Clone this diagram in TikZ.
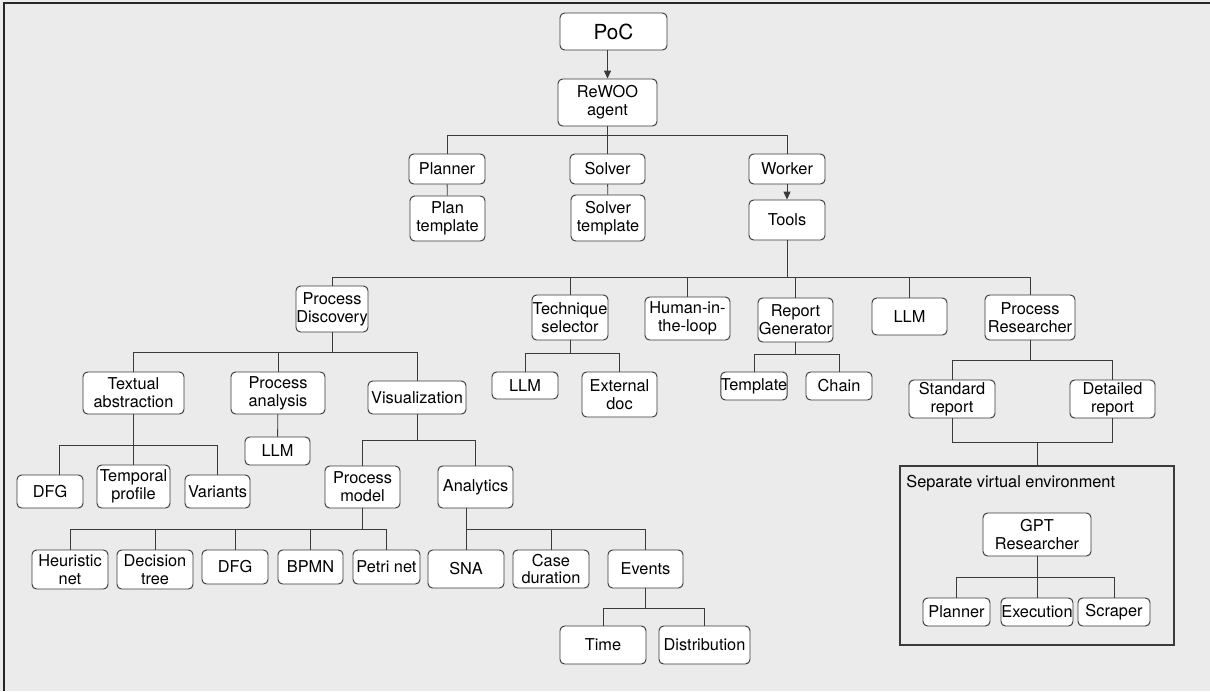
\documentclass[tikz,border=0pt]{standalone}
\usepackage{fontspec}
\setmainfont{TeX Gyre Heros}
\usetikzlibrary{arrows.meta}
\definecolor{bg}{HTML}{EBEBEB}
\definecolor{ln}{HTML}{3A3A3A}
% node placed by its box corners (in pixel units)
\newcommand\bx[7][]{\node[box,#1,minimum width={(#4-#2)*0.02cm},minimum height={(#5-#3)*0.02cm}] (#6) at ({(#2+#4)/2},{(#3+#5)/2}) {#7};}
\tikzset{
  box/.style={draw=ln,fill=white,rounded corners=2.6pt,inner sep=0pt,align=center,line width=0.55pt,
    font=\fontsize{9.3pt}{10.2pt}\selectfont},
  wire/.style={draw=ln,line width=0.5pt},
  arr/.style={wire,-{Triangle[length=4.5pt,width=4pt]}},
}
\begin{document}
\begin{tikzpicture}[x=0.02cm,y=-0.02cm]
\fill[bg] (0,0) rectangle (1210,691);
\useasboundingbox (0,0) rectangle (1210,691);
\draw[line width=1.1pt,black!85] (4,691) -- (4,3) -- (1210,3);

% top levels
\bx[font=\fontsize{11.8pt}{13pt}\selectfont]{560}{13}{667}{50}{poc}{PoC}
\bx{558}{79}{657}{126}{rewoo}{ReWOO\\agent}
\bx{409}{154}{485}{184}{planner}{Planner}
\bx{410}{196}{485}{241}{plantpl}{Plan\\template}
\bx{570}{154}{645}{184}{solver}{Solver}
\bx{571}{195}{645}{241}{solvtpl}{Solver\\template}
\bx{749}{154}{825}{184}{worker}{Worker}
\bx{749}{200}{825}{240}{tools}{Tools}

% tools
\bx{296}{286}{368}{332}{pdisc}{Process\\Discovery}
\bx{532}{295}{608}{340}{tsel}{Technique\\selector}
\bx{645}{297}{730}{340}{hitl}{Human-in-\\the-loop}
\bx{758}{298}{833}{342}{rgen}{Report\\Generator}
\bx{872}{298}{947}{335}{llmt}{LLM}
\bx{985}{295}{1075}{340}{pres}{Process\\Researcher}

% process discovery
\bx{83}{372}{184}{414}{textabs}{Textual\\abstraction}
\bx{231}{372}{325}{414}{pana}{Process\\analysis}
\bx{368}{381}{466}{414}{vis}{Visualization}
\bx{17}{475}{83}{508}{dfga}{DFG}
\bx{97}{465}{170}{508}{tprof}{Temporal\\profile}
\bx{185}{475}{250}{508}{variants}{Variants}
\bx{245}{437}{310}{465}{llmpa}{LLM}
\bx{325}{466}{400}{508}{pmodel}{Process\\model}
\bx{438}{466}{513}{508}{analytics}{Analytics}
\bx{32}{550}{108}{589}{heur}{Heuristic\\net}
\bx{117}{550}{193}{589}{dtree}{Decision\\tree}
\bx{202}{550}{268}{584}{dfgb}{DFG}
\bx{278}{550}{343}{584}{bpmn}{BPMN}
\bx{353}{550}{420}{584}{petri}{Petri net}
\bx{428}{550}{504}{588}{sna}{SNA}
\bx{513}{550}{589}{588}{cdur}{Case\\duration}
\bx{608}{550}{683}{588}{events}{Events}
\bx{560}{626}{646}{664}{time}{Time}
\bx{659}{626}{750}{664}{distr}{Distribution}

% technique selector / report generator
\bx{492}{372}{558}{399}{llmts}{LLM}
\bx{582}{372}{657}{417}{extdoc}{External\\doc}
\bx{721}{372}{787}{400}{tmpl}{Template}
\bx{806}{372}{872}{400}{chain}{Chain}

% process researcher
\bx{909}{380}{995}{418}{stdrep}{Standard\\report}
\bx{1070}{380}{1155}{418}{detrep}{Detailed\\report}
\node[draw=ln,line width=0.7pt,minimum width={274*0.02cm},minimum height={179*0.02cm},inner sep=0pt] (sve) at (1037,555.5) {};
\node[anchor=west,inner sep=0pt,font=\fontsize{9.3pt}{10.2pt}\selectfont] (svelbl) at (906,483) {Separate virtual environment};
\bx{983}{513}{1091}{556}{gptr}{GPT\\Researcher}
\bx{923}{598}{990}{626}{gplan}{Planner}
\bx{1001}{598}{1073}{626}{gexec}{Execution}
\bx{1078}{598}{1150}{626}{gscr}{Scraper}

% bus heights
\coordinate (b0) at (0,135);
\coordinate (b1) at (0,277);
\coordinate (b2) at (0,352);
\coordinate (b3) at (0,445);
\coordinate (b4) at (0,440);
\coordinate (b5) at (0,529);
\coordinate (b6) at (0,608);
\coordinate (b7) at (0,353);
\coordinate (b8) at (0,354);
\coordinate (b9) at (0,360);
\coordinate (b10) at (0,442);
\coordinate (b11) at (0,577);

% connectors
\draw[arr] (rewoo.north |- poc.south) -- (rewoo.north);
\draw[arr] (worker) -- (tools);
\draw[wire] (planner) -- (plantpl);
\draw[wire] (solver) -- (solvtpl);
\foreach \c in {planner,solver,worker}
  \draw[wire] (rewoo.south) -- (rewoo.south |- b0) -| (\c.north);
\foreach \c in {pdisc,tsel,hitl,rgen,llmt,pres}
  \draw[wire] (tools.south) -- (tools.south |- b1) -| (\c.north);
\foreach \c in {textabs,pana,vis}
  \draw[wire] (pdisc.south) -- (pdisc.south |- b2) -| (\c.north);
\draw[wire] (textabs.south) -- (tprof.north);
\draw[wire] (textabs.south |- b3) -| ([xshift=0.18cm]dfga.north);
\draw[wire] (textabs.south |- b3) -| (variants.north);
\draw[wire] (pana) -- (llmpa);
\foreach \c in {pmodel,analytics}
  \draw[wire] (vis.south) -- (vis.south |- b4) -| (\c.north);
\foreach \c in {heur,dtree,dfgb,bpmn,petri}
  \draw[wire] (pmodel.south) -- (pmodel.south |- b5) -| (\c.north);
\foreach \c in {sna,cdur,events}
  \draw[wire] ([xshift=-0.18cm]analytics.south) -- ([xshift=-0.18cm]analytics.south |- b5) -| (\c.north);
\foreach \c in {time,distr}
  \draw[wire] (events.south) -- (events.south |- b6) -| (\c.north);
\foreach \c in {llmts,extdoc}
  \draw[wire] (tsel.south) -- (tsel.south |- b7) -| (\c.north);
\foreach \c in {tmpl,chain}
  \draw[wire] (rgen.south) -- (rgen.south |- b8) -| (\c.north);
\foreach \c in {stdrep,detrep}
  \draw[wire] (pres.south) -- (pres.south |- b9) -| (\c.north);
\foreach \c in {stdrep,detrep}
  \draw[wire] (\c.south) |- (sve.north |- b10) -- (sve.north);
\foreach \c in {gplan,gexec,gscr}
  \draw[wire] (gptr.south) -- (gptr.south |- b11) -| (\c.north);
\end{tikzpicture}
\end{document}
